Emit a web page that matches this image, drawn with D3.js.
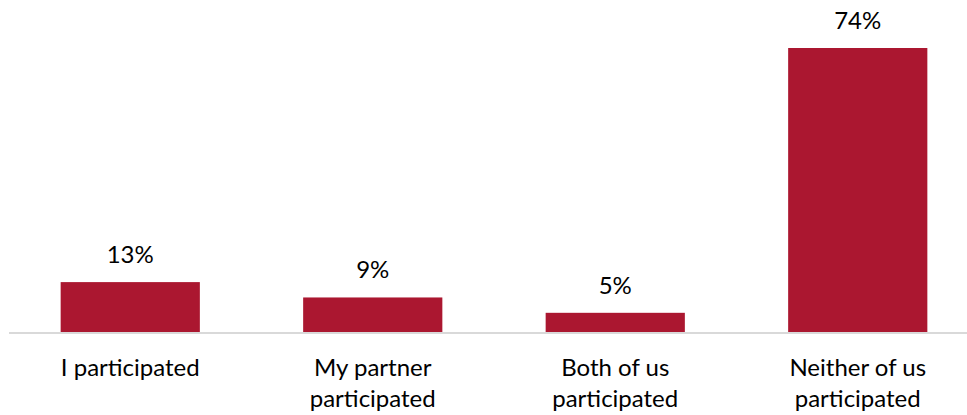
<!DOCTYPE html>
<html>
<head>
<meta charset="utf-8">
<script src="https://cdn.jsdelivr.net/npm/d3@7"></script>
<style>
  html, body { margin: 0; padding: 0; background: #fff; }
  svg { display: block; }
  text { font-family: Lato, "Open Sans", sans-serif; fill: #000; }
</style>
</head>
<body>
<svg id="chart" width="967" height="415"></svg>
<script>
// Who took part
const categories = [
  ["I participated"],
  ["My partner", "participated"],
  ["Both of us", "participated"],
  ["Neither of us", "participated"]
];
const values = [13, 9, 5, 74];
const valueLabels = ["13%", "9%", "5%", "74%"];

const width = 967, height = 415;
const baseline = 332;
const fontSize = 24;

const svg = d3.select("#chart");

const x = d3.scaleBand()
  .domain(d3.range(categories.length))
  .range([9, 979])
  .paddingInner(0.426)
  .paddingOuter(0.213);

const y = d3.scaleLinear()
  .domain([0, 74])
  .range([baseline, 48]);

// bars
svg.append("g")
  .selectAll("rect")
  .data(values)
  .join("rect")
  .attr("x", (d, i) => x(i))
  .attr("y", d => y(d))
  .attr("width", x.bandwidth())
  .attr("height", d => y(0) - y(d))
  .attr("fill", "#AB1730");

// category axis line
svg.append("line")
  .attr("x1", 9).attr("x2", width)
  .attr("y1", baseline + 1).attr("y2", baseline + 1)
  .attr("stroke", "#D9D9D9")
  .attr("stroke-width", 2);

// value labels
svg.append("g")
  .selectAll("text")
  .data(values)
  .join("text")
  .attr("x", (d, i) => x(i) + x.bandwidth() / 2)
  .attr("y", d => y(d) - 19)
  .attr("text-anchor", "middle")
  .attr("font-size", fontSize)
  .text((d, i) => valueLabels[i]);

// category labels
const cat = svg.append("g")
  .selectAll("text")
  .data(categories)
  .join("text")
  .attr("x", (d, i) => x(i) + x.bandwidth() / 2)
  .attr("y", 376)
  .attr("text-anchor", "middle")
  .attr("font-size", fontSize);

cat.selectAll("tspan")
  .data(d => d)
  .join("tspan")
  .attr("x", function () { return this.parentNode.getAttribute("x"); })
  .attr("dy", (d, j) => j === 0 ? 0 : 31)
  .text(d => d);
</script>
</body>
</html>
